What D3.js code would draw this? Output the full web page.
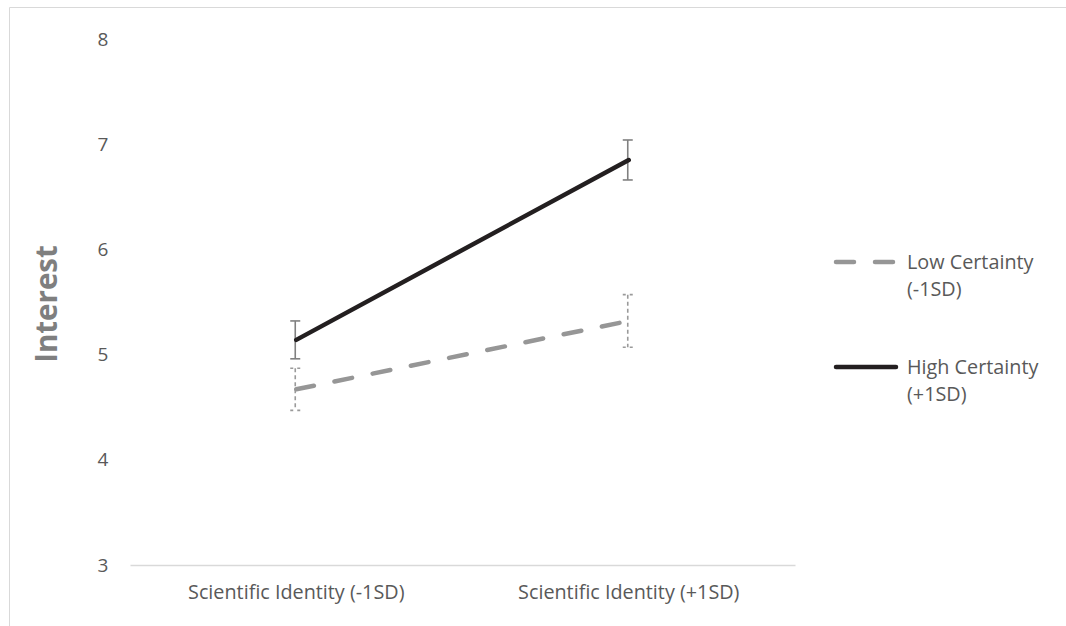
<!DOCTYPE html>
<html>
<head>
<meta charset="utf-8">
<script src="https://cdn.jsdelivr.net/npm/d3@7"></script>
<style>
  html, body { margin: 0; padding: 0; background: #fff; }
  svg { display: block; }
  text { font-family: "Open Sans", Lato, sans-serif; }
</style>
</head>
<body>
<svg id="chart" width="1066" height="626"></svg>
<script>
// ---- data ----
const categories = ["Scientific Identity (-1SD)", "Scientific Identity (+1SD)"];
const seriesNames = ["Low Certainty (-1SD)", "High Certainty (+1SD)"];
const legendLines = [["Low Certainty", "(-1SD)"], ["High Certainty", "(+1SD)"]];
const lowValues = [4.67, 5.32];
const lowErrors = [0.20, 0.25];
const highValues = [5.14, 6.85];
const highErrors = [0.18, 0.19];
const yTicks = [3, 4, 5, 6, 7, 8];
const yTitle = "Interest";

const svg = d3.select("#chart");

// frame
svg.append("path")
  .attr("d", "M9.5,626 L9.5,7.5 L1066,7.5")
  .attr("fill", "none").attr("stroke", "#d9d9d9").attr("stroke-width", 1);

const plot = { left: 130, right: 795, top: 39, bottom: 565 };

const x = d3.scaleBand().domain(categories).range([plot.left, plot.right]).padding(0);
const y = d3.scaleLinear().domain([3, 8]).range([plot.bottom, plot.top]);
const cx = c => x(c) + x.bandwidth() / 2;

// y axis labels (no line)
const yAxis = d3.axisLeft(y).tickValues(yTicks).tickSize(0).tickPadding(0).tickFormat(d3.format("d"));
const gy = svg.append("g").attr("transform", `translate(103,0)`).call(yAxis);
gy.select(".domain").remove();
gy.selectAll("text").attr("font-size", 19).attr("fill", "#595959")
  .attr("text-anchor", "middle").attr("dx", 0);

// x axis baseline
const xAxis = d3.axisBottom(x).tickSize(0).tickPadding(20);
const gx = svg.append("g").attr("transform", `translate(0,${plot.bottom})`).call(xAxis);
gx.select(".domain").attr("stroke", "#d9d9d9").attr("stroke-width", 1.5);
gx.selectAll("text").attr("font-size", 19.8).attr("fill", "#595959");

// y title
svg.append("text")
  .attr("transform", `translate(57,${(plot.top + plot.bottom) / 2 + 2}) rotate(-90)`)
  .attr("text-anchor", "middle")
  .attr("font-size", 29.5).attr("font-weight", "bold").attr("fill", "#7f7f7f")
  .text(yTitle);

const series = [
  { name: seriesNames[0], values: lowValues, errors: lowErrors, color: "#969696", width: 4.5, dash: "18,21", errColor: "#9a9a9a", errDash: "4,3", errOffset: -1 },
  { name: seriesNames[1], values: highValues, errors: highErrors, color: "#231f20", width: 4.5, dash: null, errColor: "#808080", errDash: null, errOffset: -1 }
];

const line = d3.line().x((d, i) => cx(categories[i])).y(d => y(d));

series.forEach(s => {
  const g = svg.append("g");
  // error bars
  s.values.forEach((v, i) => {
    const xx = cx(categories[i]) + s.errOffset;
    const y1 = y(v + s.errors[i]), y2 = y(v - s.errors[i]);
    const eb = g.append("g").attr("stroke", s.errColor).attr("stroke-width", 1.6).attr("fill", "none");
    eb.append("line").attr("x1", xx).attr("x2", xx).attr("y1", y1).attr("y2", y2)
      .attr("stroke-dasharray", s.errDash);
    eb.append("line").attr("x1", xx - 5).attr("x2", xx + 5).attr("y1", y1).attr("y2", y1)
      .attr("stroke-dasharray", s.errDash ? "3,4" : null);
    eb.append("line").attr("x1", xx - 5).attr("x2", xx + 5).attr("y1", y2).attr("y2", y2)
      .attr("stroke-dasharray", s.errDash ? "3,4" : null);
  });
});

series.forEach(s => {
  svg.append("path").datum(s.values)
    .attr("d", line)
    .attr("fill", "none")
    .attr("stroke", s.color)
    .attr("stroke-width", s.width)
    .attr("stroke-linecap", "round")
    .attr("stroke-dasharray", s.dash);
});

// legend
const legend = svg.append("g");
const legendY = [262, 367];
series.forEach((s, i) => {
  const ly = legendY[i];
  legend.append("line")
    .attr("x1", 836).attr("x2", 896).attr("y1", ly).attr("y2", ly)
    .attr("stroke", s.color).attr("stroke-width", s.width)
    .attr("stroke-linecap", "round")
    .attr("stroke-dasharray", s.dash);
  const t = legend.append("text").attr("x", 907).attr("y", ly + 7)
    .attr("font-size", 19.8).attr("fill", "#595959");
  legendLines[i].forEach((l, j) => {
    t.append("tspan").attr("x", 907).attr("dy", j === 0 ? 0 : 27).text(l);
  });
});
</script>
</body>
</html>
